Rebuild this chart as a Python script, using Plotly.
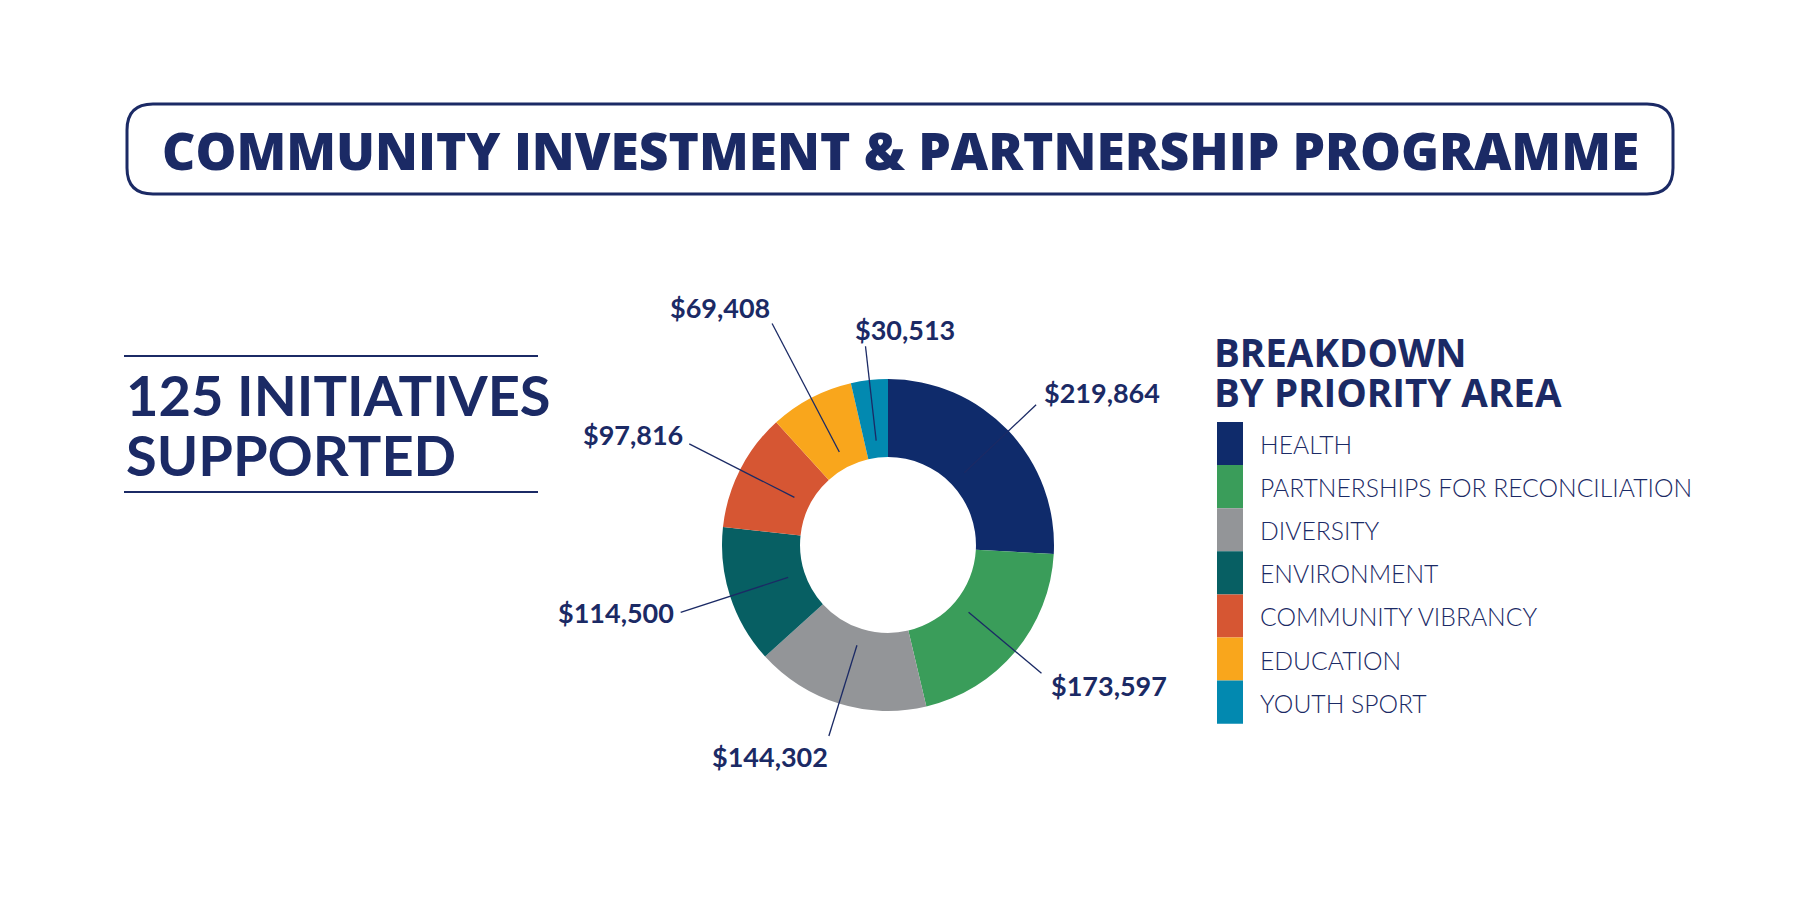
import math
import plotly.graph_objects as go

# ---------------- data ----------------
categories = ["HEALTH", "PARTNERSHIPS FOR RECONCILIATION", "DIVERSITY", "ENVIRONMENT",
              "COMMUNITY VIBRANCY", "EDUCATION", "YOUTH SPORT"]
amounts = [219864, 173597, 144302, 114500, 97816, 69408, 30513]
colors = ["#0f2b6b", "#3a9d5a", "#939598", "#075f63", "#d65633", "#f9a61c", "#0289b0"]

title_text = "COMMUNITY INVESTMENT &amp; PARTNERSHIP PROGRAMME"
side_lines = ["125 INITIATIVES", "SUPPORTED"]
legend_title = ["BREAKDOWN", "BY PRIORITY AREA"]

# ---------------- layout constants (screen pixels) ----------------
W, H = 1800, 900
PAGE_OFF = 8               # default body margin of the html page
NAVY = "#1b2a65"
CX, CY = 888, 545          # donut centre
R_OUT, HOLE = 166, 0.53
R_LEADER_IN = 105
leader_out = [204, 200, 200, 218, 223, 250, 200]
# text placement relative to leader end: (dx, dy, xanchor)
label_off = [(6, -12, "left"), (8, 12, "left"), (1, 20, "right"), (-5, 0, "right"),
             (-4, -9, "right"), (0, -16, "right"), (-12, -17, "left")]


def px(x):
    return (x - PAGE_OFF) / W


def py(y):
    return 1 - (y - PAGE_OFF) / H


fig = go.Figure()
fig.add_trace(go.Pie(
    labels=categories, values=amounts, sort=False, direction="clockwise", rotation=0,
    hole=HOLE, textinfo="none", hoverinfo="label+value",
    marker=dict(colors=colors, line=dict(width=0)),
    domain=dict(x=[px(CX - R_OUT), px(CX + R_OUT)], y=[py(CY + R_OUT), py(CY - R_OUT)]),
    showlegend=False,
))

shapes = []
annotations = []

# title box
bx0, bx1, by0, by1, rr = 127, 1673, 104, 194, 26
path = (f"M {px(bx0+rr)},{py(by0)} L {px(bx1-rr)},{py(by0)} "
        f"Q {px(bx1)},{py(by0)} {px(bx1)},{py(by0+rr)} L {px(bx1)},{py(by1-rr)} "
        f"Q {px(bx1)},{py(by1)} {px(bx1-rr)},{py(by1)} L {px(bx0+rr)},{py(by1)} "
        f"Q {px(bx0)},{py(by1)} {px(bx0)},{py(by1-rr)} L {px(bx0)},{py(by0+rr)} "
        f"Q {px(bx0)},{py(by0)} {px(bx0+rr)},{py(by0)} Z")
shapes.append(dict(type="path", xref="paper", yref="paper", path=path,
                   line=dict(color=NAVY, width=3)))
annotations.append(dict(x=px(900), y=py(150), xref="paper", yref="paper", text=title_text,
                        showarrow=False, xanchor="center", yanchor="middle",
                        font=dict(family="Open Sans", size=51.5, color=NAVY, weight=800)))

# left block
for yy in (356, 492):
    shapes.append(dict(type="line", xref="paper", yref="paper", x0=px(124), x1=px(538),
                       y0=py(yy), y1=py(yy), line=dict(color=NAVY, width=2)))
for i, t in enumerate(side_lines):
    annotations.append(dict(x=px(124), y=py(395 + i * 60), xref="paper", yref="paper", text=t,
                            showarrow=False, xanchor="left", yanchor="middle",
                            font=dict(family="Lato", size=56, color=NAVY, weight=700)))

# leader lines + value labels
total = sum(amounts)
cum = 0
for i, v in enumerate(amounts):
    mid = (cum + v / 2) / total
    cum += v
    th = 2 * math.pi * mid
    sx, sy = math.sin(th), -math.cos(th)
    x0, y0 = CX + R_LEADER_IN * sx, CY + R_LEADER_IN * sy
    x1, y1 = CX + leader_out[i] * sx, CY + leader_out[i] * sy
    shapes.append(dict(type="line", xref="paper", yref="paper", x0=px(x0), y0=py(y0),
                       x1=px(x1), y1=py(y1), line=dict(color=NAVY, width=1.3)))
    dx, dy, xa = label_off[i]
    annotations.append(dict(x=px(x1 + dx), y=py(y1 + dy), xref="paper", yref="paper",
                            text=f"${v:,}", showarrow=False, xanchor=xa, yanchor="middle",
                            font=dict(family="Lato", size=27, color=NAVY, weight=700)))

# legend
for i, t in enumerate(legend_title):
    annotations.append(dict(x=px(1212), y=py(352 + i * 40), xref="paper", yref="paper", text=t,
                            showarrow=False, xanchor="left", yanchor="middle",
                            font=dict(family="Open Sans", size=38.5, color=NAVY, weight=700)))
seg_top, seg_h = 422, 43.1
for i, (c, lab) in enumerate(zip(colors, categories)):
    y0 = seg_top + i * seg_h
    shapes.append(dict(type="rect", xref="paper", yref="paper", x0=px(1217), x1=px(1243),
                       y0=py(y0), y1=py(y0 + seg_h), fillcolor=c, line=dict(width=0)))
    annotations.append(dict(x=px(1258), y=py(y0 + seg_h / 2 + 1), xref="paper", yref="paper",
                            text=lab, showarrow=False, xanchor="left", yanchor="middle",
                            font=dict(family="Lato", size=24.7, color=NAVY, weight=300)))

fig.update_layout(width=W, height=H, margin=dict(l=0, r=0, t=0, b=0),
                  paper_bgcolor="white", plot_bgcolor="white",
                  shapes=shapes, annotations=annotations)
fig.write_html("out.html")
